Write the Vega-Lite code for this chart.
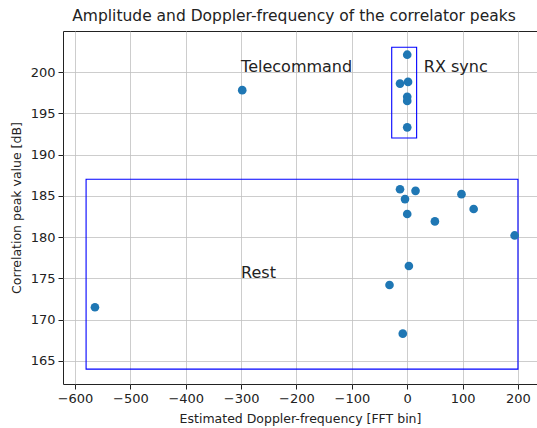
{
  "$schema": "https://vega.github.io/schema/vega-lite/v6.json",
  "width": 474,
  "height": 353,
  "autosize": "none",
  "padding": {"left": 63, "top": 31, "right": 0, "bottom": 44},
  "background": "white",
  "title": {"text": "Amplitude and Doppler-frequency of the correlator peaks", "fontSize": 15.5, "fontWeight": "normal", "font": "DejaVu Sans", "color": "#222", "offset": 7, "dx": -6},
  "config": {
    "font": "DejaVu Sans",
    "view": {"stroke": "#222", "strokeWidth": 1},
    "axis": {"labelFontSize": 13, "titleFontSize": 12.5, "titleFontWeight": "normal", "labelColor": "#222", "titleColor": "#222", "tickColor": "#222", "tickSize": 5, "domain": false, "gridColor": "#c0c0c0", "gridWidth": 0.8, "labelPadding": 3}
  },
  "datasets": {
    "points": [
      {"doppler": -298, "peak": 197.8},
      {"doppler": -564, "peak": 171.5},
      {"doppler": 0, "peak": 202.1},
      {"doppler": -13, "peak": 198.6},
      {"doppler": 1.5, "peak": 198.8},
      {"doppler": 0, "peak": 197.0},
      {"doppler": 0, "peak": 196.5},
      {"doppler": 0, "peak": 193.3},
      {"doppler": -13, "peak": 185.8},
      {"doppler": 15, "peak": 185.6},
      {"doppler": 98, "peak": 185.2},
      {"doppler": -4, "peak": 184.6},
      {"doppler": 120, "peak": 183.4},
      {"doppler": 0, "peak": 182.8},
      {"doppler": 50, "peak": 181.9},
      {"doppler": 194, "peak": 180.2},
      {"doppler": 3, "peak": 176.5},
      {"doppler": -32, "peak": 174.2},
      {"doppler": -8, "peak": 168.3}
    ],
    "boxes": [
      {"x1": -580, "x2": 200, "y1": 164, "y2": 187},
      {"x1": -28, "x2": 17, "y1": 192, "y2": 203}
    ],
    "labels": [
      {"x": -300, "y": 200, "label": "Telecommand"},
      {"x": 30, "y": 200, "label": "RX sync"},
      {"x": -300, "y": 175, "label": "Rest"}
    ]
  },
  "layer": [
    {
      "data": {"name": "boxes"},
      "mark": {"type": "rect", "fill": null, "stroke": "#0000ff", "strokeWidth": 1.1},
      "encoding": {
        "x": {"field": "x1", "type": "quantitative", "scale": {"domain": [-621.7, 234.4], "nice": false, "zero": false},
              "axis": {"values": [-600, -500, -400, -300, -200, -100, 0, 100, 200], "title": "Estimated Doppler-frequency [FFT bin]", "titlePadding": 7}},
        "x2": {"field": "x2"},
        "y": {"field": "y1", "type": "quantitative", "scale": {"domain": [162.2, 204.97], "nice": false, "zero": false},
              "axis": {"values": [165, 170, 175, 180, 185, 190, 195, 200], "title": "Correlation peak value [dB]", "titlePadding": 7}},
        "y2": {"field": "y2"}
      }
    },
    {
      "data": {"name": "points"},
      "mark": {"type": "circle", "size": 75, "opacity": 1, "color": "#1f77b4"},
      "encoding": {
        "x": {"field": "doppler", "type": "quantitative"},
        "y": {"field": "peak", "type": "quantitative"}
      }
    },
    {
      "data": {"name": "labels"},
      "mark": {"type": "text", "align": "left", "baseline": "alphabetic", "fontSize": 16, "color": "#222"},
      "encoding": {
        "x": {"field": "x", "type": "quantitative"},
        "y": {"field": "y", "type": "quantitative"},
        "text": {"field": "label"}
      }
    }
  ]
}
